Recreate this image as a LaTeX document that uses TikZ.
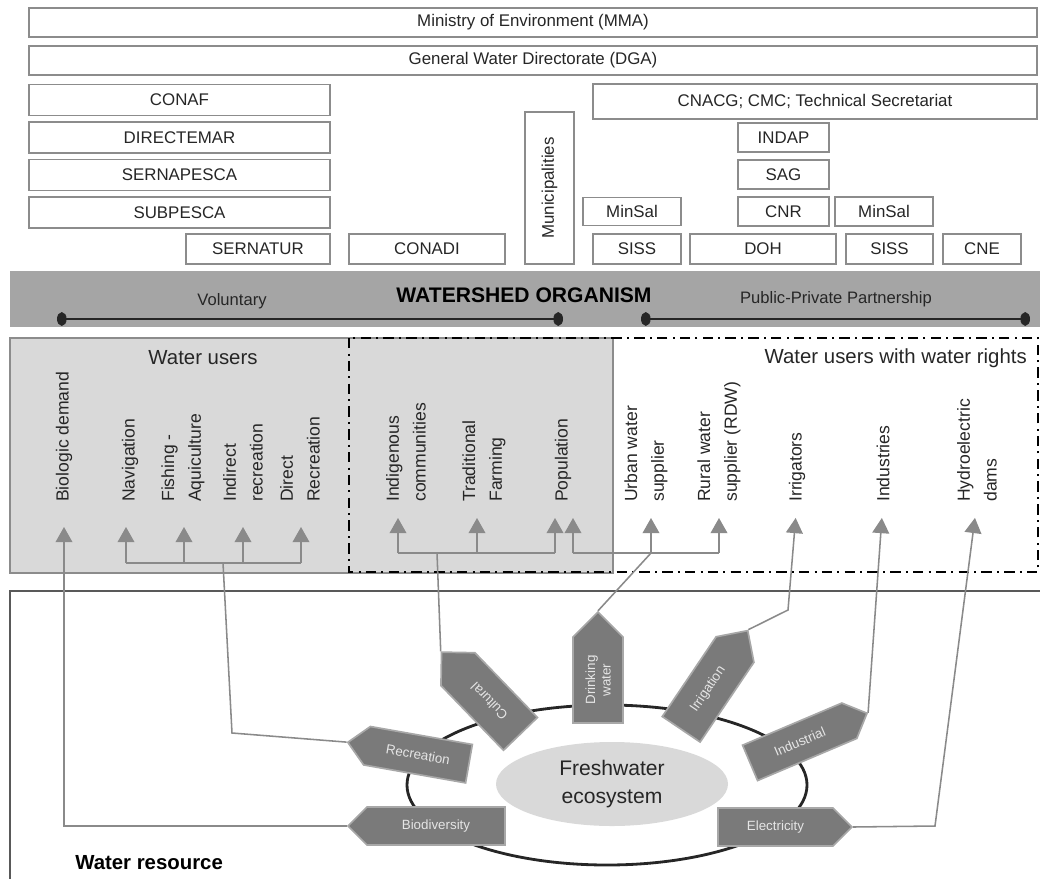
\documentclass[tikz,border=0pt]{standalone}
\usepackage{fontspec}
\setmainfont{Liberation Sans}
\usetikzlibrary{arrows.meta}
\usetikzlibrary{shapes.geometric, shapes.symbols}
\definecolor{boxline}{RGB}{140,140,140}
\definecolor{bandfill}{RGB}{165,165,165}
\definecolor{userfill}{RGB}{217,217,217}
\definecolor{signalfill}{RGB}{122,122,122}
\definecolor{signalline}{RGB}{168,168,168}
\definecolor{connline}{RGB}{138,138,138}
\definecolor{textdark}{RGB}{38,38,38}

\begin{document}
\begin{tikzpicture}[x=0.25mm, y=-0.25mm,
	agency/.style={draw=boxline, line width=1pt, inner sep=0pt, text=textdark, font=\fontsize{12}{14}\selectfont},
	user/.style={rotate=90, anchor=west, align=left, inner sep=0pt, text=textdark, font=\fontsize{12.5}{19}\selectfont},
	service/.style={signal, fill=signalfill, draw=signalline, line width=1.2pt, inner sep=0pt, align=center, text=white!90!black, font=\fontsize{9.5}{11}\selectfont},
	conn/.style={draw=connline, line width=1.1pt},
	arrL/.style={conn, -{Triangle[width=4.2mm,length=3.8mm]}, shorten >=6.25mm},
	arrM/.style={conn, -{Triangle[width=4.2mm,length=3.8mm]}, shorten >=4mm},
	phase/.style={draw=textdark, line width=1.4pt, {Ellipse[length=2.4mm,width=3.4mm]}-{Ellipse[length=2.4mm,width=3.4mm]}}]

	\useasboundingbox (0,0) rectangle (1040,878);

	% agencies
	\node[agency, minimum width=252mm, minimum height=7.25mm] (mma) at (533,22.5) {Ministry of Environment (MMA)};
	\node[agency, minimum width=252mm, minimum height=7.25mm] (dga) at (533,60.5) {General Water Directorate (DGA)};

	\node[agency, minimum width=75.25mm, minimum height=7.75mm] (conaf) at (179.5,100) {CONAF};
	\node[agency, minimum width=75.25mm, minimum height=7.75mm] (directemar) at (179.5,137.5) {DIRECTEMAR};
	\node[agency, minimum width=75.25mm, minimum height=7.75mm] (sernapesca) at (179.5,175) {SERNAPESCA};
	\node[agency, minimum width=75.25mm, minimum height=7.75mm] (subpesca) at (179.5,212.5) {SUBPESCA};
	\node[agency, minimum width=36mm, minimum height=7.5mm] (sernatur) at (258,249) {SERNATUR};
	\node[agency, minimum width=39mm, minimum height=7.5mm] (conadi) at (427,249) {CONADI};
	\node[agency, rotate=90, minimum width=38mm, minimum height=12.25mm] (muni) at (549.5,188) {Municipalities};

	\node[agency, minimum width=111mm, minimum height=8.75mm] (cnacg) at (815,101.5) {CNACG; CMC; Technical Secretariat};
	\node[agency, minimum width=22.75mm, minimum height=7.25mm] (indap) at (783.5,137.5) {INDAP};
	\node[agency, minimum width=22.75mm, minimum height=7.25mm] (sag) at (783.5,174.5) {SAG};
	\node[agency, minimum width=22.75mm, minimum height=7.25mm] (cnr) at (783.5,211.5) {CNR};
	\node[agency, minimum width=24.5mm, minimum height=7mm] (minsalA) at (632,211.5) {MinSal};
	\node[agency, minimum width=24.5mm, minimum height=7.25mm] (minsalB) at (884,211.5) {MinSal};
	\node[agency, minimum width=22mm, minimum height=7.5mm] (sissA) at (637,249) {SISS};
	\node[agency, minimum width=36.5mm, minimum height=7.5mm] (doh) at (763,249) {DOH};
	\node[agency, minimum width=21.75mm, minimum height=7.5mm] (sissB) at (889.5,249) {SISS};
	\node[agency, minimum width=19.5mm, minimum height=7.5mm] (cne) at (982,249) {CNE};

	% watershed organism
	\fill[bandfill] (10,271) rectangle (1040,327);
	\node[text=textdark, font=\fontsize{11.8}{14}\selectfont] (vol) at (232,301) {Voluntary};
	\node[text=black, font=\bfseries\fontsize{15}{18}\selectfont] (wso) at (524,295) {WATERSHED ORGANISM};
	\node[text=textdark, font=\fontsize{11.8}{14}\selectfont] (ppp) at (836,299) {Public-Private Partnership};
	\coordinate (volA) at (57,319);
	\coordinate (volB) at (563,319);
	\coordinate (pppA) at (641,319);
	\coordinate (pppB) at (1030,319);
	\draw[phase] (volA) -- (volB);
	\draw[phase] (pppA) -- (pppB);

	% water users
	\draw[draw=boxline, fill=userfill, line width=1pt] (10,338) rectangle (613,573);
	\draw[black, line width=1.4pt, dash pattern=on 2.6mm off 1.3mm on 0.5mm off 1.3mm] (349,338) rectangle (1038,572);
	\node[text=textdark, font=\fontsize{14.5}{17}\selectfont] (wu) at (203,358) {Water users};
	\node[anchor=east, inner sep=0pt, text=textdark, font=\fontsize{14.5}{17}\selectfont] (wur) at (1027,358) {Water users with water rights};

	\node[user] (bio) at (64,502) {Biologic demand};
	\node[user] (nav) at (130,502) {Navigation};
	\node[user] (fish) at (183,502) {Fishing -\\Aquiculture};
	\node[user] (indirect) at (243,502) {Indirect\\recreation};
	\node[user] (direct) at (300,502) {Direct\\Recreation};
	\node[user] (indig) at (406,502) {Indigenous\\communities};
	\node[user] (trad) at (484,502) {Traditional\\Farming};
	\node[user] (pop) at (563,502) {Population};
	\node[user] (urban) at (646,502) {Urban water\\supplier};
	\node[user] (rural) at (719,502) {Rural water\\supplier (RDW)};
	\node[user] (irrig) at (797,502) {Irrigators};
	\node[user] (indus) at (883,502) {Industries};
	\node[user] (hydro) at (977,502) {Hydroelectric\\dams};

	% water resource
	\draw[draw=black!65, line width=1.1pt] (10,880) -- (10,591) -- (1042,591);
	\node[anchor=west, inner sep=0pt, font=\bfseries\fontsize{14.5}{17}\selectfont] (wr) at (75,863) {Water resource};

	\draw[draw=textdark, line width=2pt] (607,785) ellipse [x radius=50mm, y radius=20mm];
	\node[ellipse, fill=userfill, inner sep=0pt, minimum width=58mm, minimum height=21mm, align=center, text=textdark, font=\fontsize{15}{20}\selectfont] (eco) at (612,784) {Freshwater\\ecosystem};

	\node[service, signal to=west, minimum width=39.25mm, minimum height=9.5mm] (biod) at (436,826) {Biodiversity};
	\node[service, signal to=west, rotate=-10, minimum width=30.75mm, minimum height=9.75mm] (recr) at (418,754.7) {Recreation};
	\node[service, signal to=east, rotate=134, minimum width=28.4mm, minimum height=11.8mm] (cult) at (489.2,701.5) {Cultural};
	\node[service, signal to=east, rotate=90, minimum width=27.75mm, minimum height=12.5mm] (drink) at (598,680) {Drinking\\water};
	\node[service, signal to=east, rotate=56, minimum width=29.75mm, minimum height=11.4mm] (irri) at (708.1,689.4) {Irrigation};
	\node[service, signal to=east, rotate=23, minimum width=31.75mm, minimum height=9.6mm] (indu) at (799.7,741.8) {Industrial};
	\node[service, signal to=east, minimum width=33.5mm, minimum height=9.5mm] (elec) at (775.5,827) {Electricity};

	% connectors
	\coordinate (jl) at (223,563);
	\coordinate (jm) at (437,553);
	\coordinate (ju) at (651,553);
	\coordinate (rk) at (232,733);
	\coordinate (ik) at (788,610);
	\coordinate (ek) at (935,826);

	\coordinate (aNav) at (126,563);
	\coordinate (aFish) at (184,563);
	\coordinate (aIndirect) at (243,563);
	\coordinate (aDirect) at (301,563);
	\coordinate (aIndig) at (398,553);
	\coordinate (aTrad) at (477,553);
	\coordinate (aPopL) at (555,553);
	\coordinate (aPopR) at (573,553);
	\coordinate (aRural) at (719,553);

	\draw[conn] (aNav) -- (aDirect);
	\foreach \a/\u in {aNav/nav, aFish/fish, aIndirect/indirect, aDirect/direct}
		\draw[arrL] (\a) -- (\a |- \u.west);
	\draw[conn] (aIndig) -- (aPopL);
	\draw[conn] (aPopR) -- (aRural);
	\foreach \a/\u in {aIndig/indig, aTrad/trad, aPopL/pop, aPopR/pop, ju/urban, aRural/rural}
		\draw[arrM] (\a) -- (\a |- \u.west);

	\draw[arrL] (biod.west) -| (bio.west);
	\draw[conn] (recr.west) -- (rk) -- (jl);
	\draw[conn] (cult.east) -- (jm);
	\draw[conn] (drink.east) -- (ju);
	\draw[arrM] (irri.east) -- (ik) -- (irrig.west);
	\draw[arrM] (indu.east) -- (indus.west);
	\draw[arrM] (elec.east) -- (ek) -- (hydro.west);

\end{tikzpicture}
\end{document}
